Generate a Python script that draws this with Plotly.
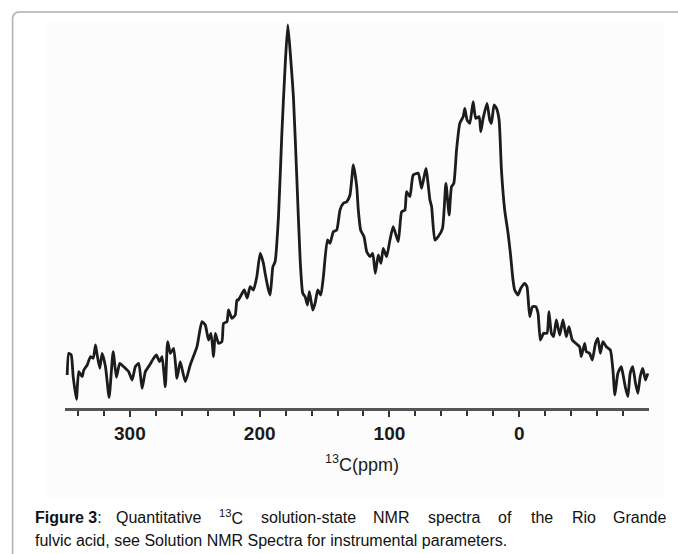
import plotly.graph_objects as go

# 13C chemical shift (ppm) and intensity (arbitrary units)
ppm = [348.3, 347.1, 345.2, 343.7, 341.2, 339.4, 336.8, 335.5, 332.9, 330.4, 328.3, 326.5, 325.2,
       323.2, 321.4, 318.8, 316.0, 312.9, 310.4, 307.8, 304.8, 300.9, 298.3, 295.8, 293.2, 290.6,
       288.1, 284.8, 281.7, 279.6, 277.1, 275.2, 272.7, 270.9, 268.8, 266.3, 263.7, 261.2, 257.3,
       253.5, 248.3, 244.5, 241.9, 239.4, 237.5, 235.5, 234.2, 231.7, 229.1, 227.8, 225.2, 224.0,
       221.4, 218.8, 217.5, 216.5, 214.2, 211.9, 209.6, 207.3, 204.8, 202.2, 199.6, 197.1, 195.8,
       193.2, 191.9, 189.8, 188.1, 185.5, 182.9, 180.4, 178.3, 176.0, 174.0, 171.4, 168.8, 166.8,
       165.0, 163.2, 161.7, 159.1, 157.3, 155.2, 152.9, 150.9, 147.8, 145.8, 143.2, 140.6, 138.1,
       135.5, 132.9, 130.4, 127.8, 125.2, 124.0, 122.2, 119.6, 117.5, 115.0, 112.9, 110.9, 108.6,
       106.5, 104.8, 102.2, 99.6, 97.1, 93.2, 90.6, 88.1, 86.8, 84.2, 81.7, 77.8, 75.2, 71.9, 68.8,
       67.5, 65.0, 62.5, 59.1, 56.5, 54.0, 52.2, 50.4, 48.3, 45.8, 43.2, 41.9, 40.2, 38.1, 35.5,
       33.5, 30.9, 29.6, 27.8, 24.8, 22.7, 21.4, 19.4, 17.5, 15.5, 13.7, 11.2, 8.6, 6.8, 4.8, 3.5,
       0.9, -1.2, -4.2, -6.0, -8.1, -10.2, -12.7, -14.5, -16.3, -18.8, -21.4, -22.9, -24.8, -26.5,
       -28.6, -31.2, -33.7, -36.3, -38.3, -40.9, -43.5, -46.5, -47.8, -50.4, -51.7, -54.2, -56.3,
       -58.8, -60.6, -62.5, -64.5, -67.1, -70.2, -72.2, -73.7, -76.0, -78.6, -79.8, -81.7, -83.7,
       -85.5, -87.5, -89.6, -91.4, -93.2, -95.2, -97.3, -99.1]
intensity = [33, 54.7, 53, 31.3, 8.7, 36.3, 31.3, 38, 43, 51.3, 49.7, 63, 53,
             39.7, 54.7, 41.3, 10.7, 56.3, 30.7, 44.7, 41.3, 36.3, 28, 41.3, 44.7, 19.7,
             36.3, 43, 49.7, 53, 46.3, 51.3, 21.3, 66.3, 54.7, 59.7, 29.7, 46.3, 26.3,
             43, 61.3, 86.3, 83, 68, 74.7, 51.3, 74.7, 64.7, 66.3, 84.7, 86.3, 98,
             89.7, 93, 108, 108, 113, 118, 110, 121.3, 118, 131.3, 154.7, 144.7, 134.7,
             118, 113, 141.3, 146.3, 191.3, 274.7, 341.3, 383, 348, 311.3, 231.3, 148, 114.7,
             111.3, 103, 116.3, 98, 104.7, 118, 113, 131.3, 168, 164.7, 176.3, 178, 198,
             204.7, 206.3, 213, 243, 221.3, 198, 178, 171.3, 156.3, 151.3, 154.7, 134.7, 153,
             144.7, 159.7, 151.3, 168, 181.3, 166.3, 196.3, 198, 216.3, 211.3, 233, 234.7, 219.7, 239.7, 208,
             201.3, 168, 171.3, 179.7, 224.7, 193, 221.3, 224.7, 258, 284.7, 291.3, 299.7, 288, 284.7, 306.3,
             289.7, 291.3, 276.3, 289.7, 304.7, 288, 284.7, 303, 299.7, 288, 238, 198, 174.7, 154.7, 128, 118,
             113, 119.7, 124.7, 121.3, 91.3, 101.3, 101.3, 94.7, 68, 74.7, 74.7, 96.3, 74.7, 71.3,
             88, 73, 88, 71.3, 81.3, 68, 64.7, 61.3, 51.3, 64.7, 56.3, 54.7, 48,
             64.7, 69.7, 54.7, 66.3, 61.3, 58, 38, 13, 34.7, 41.3, 34.7, 21.3, 11.3,
             34.7, 41.3, 24.7, 14.7, 31.3, 39.7, 28, 34.7]

major_ticks = [300, 200, 100, 0]
major_labels = ["300", "200", "100", "0"]
minor_ticks = [340, 320, 280, 260, 240, 220, 180, 160, 140, 120, 80, 60, 40, 20,
               -20, -40, -60, -80]

caption_line1 = [("<b>Figure 3</b>:", 32), ("Quantitative", 113.7), ("<sup>13</sup>C", 217),
                 ("solution-state", 259.2), ("NMR", 370.9), ("spectra", 426.2), ("of", 496.6),
                 ("the", 529.3), ("Rio", 570.5), ("Grande", 611.7)]
caption_line2 = "fulvic acid, see Solution NMR Spectra for instrumental parameters."

W, H = 678, 554
L, R, T, B = 64.5, 649.5, 20, 408  # plot area in pixels
PW, PH = R - L, B - T


def fx(x):
    return (x - L) / PW


def fy(y):
    return (B - y) / PH


fig = go.Figure()
fig.add_trace(go.Scatter(x=ppm, y=intensity, mode="lines",
                         line=dict(color="#1c1c1c", width=2.8, shape="spline", smoothing=0.5),
                         hoverinfo="skip"))

sans = "Liberation Sans, Arial, sans-serif"

fig.update_layout(
    width=W, height=H,
    margin=dict(l=L, r=W - R, t=T, b=H - B, pad=0),
    paper_bgcolor="white", plot_bgcolor="rgba(0,0,0,0)",
    showlegend=False,
    xaxis=dict(range=[350, -100], tickmode="array", tickvals=major_ticks, ticktext=major_labels,
               ticks="outside", ticklen=6, tickwidth=2, tickcolor="#333",
               showline=True, linecolor="#555", linewidth=2.5, showgrid=False, zeroline=False,
               tickfont=dict(family=sans, size=19, color="#1a1a1a", weight="bold"),
               minor=dict(tickmode="array", tickvals=minor_ticks, ticks="outside", ticklen=5,
                          tickwidth=2, tickcolor="#333", showgrid=False)),
    yaxis=dict(range=[0, PH], visible=False, showgrid=False, zeroline=False),
)

# inner light image background and outer rounded frame
fig.add_shape(type="rect", xref="paper", yref="paper", x0=fx(45), x1=fx(665), y0=fy(497), y1=fy(23),
              fillcolor="#fcfcfc", line=dict(width=0), layer="below")
r = 7
path = (f"M {fx(12)} {fy(H + 5)} L {fx(12)} {fy(12 + r)} Q {fx(12)} {fy(12)} {fx(12 + r)} {fy(12)} "
        f"L {fx(W + 5)} {fy(12)}")
fig.add_shape(type="path", xref="paper", yref="paper", path=path,
              line=dict(color="#b0b0b0", width=1.5), layer="below")

# axis title
fig.add_annotation(text="<sup>13</sup>C(ppm)", xref="paper", yref="paper",
                   x=fx(362), y=fy(463), xanchor="center", yanchor="middle", showarrow=False,
                   font=dict(family=sans, size=18, color="#1a1a1a"))

# caption
cap_font = dict(family=sans, size=16, color="#111")
for word, x in caption_line1:
    fig.add_annotation(text=word, xref="paper", yref="paper", x=fx(x), y=fy(517),
                       xanchor="left", yanchor="middle", showarrow=False, font=cap_font)
fig.add_annotation(text=caption_line2, xref="paper", yref="paper", x=fx(32), y=fy(540),
                   xanchor="left", yanchor="middle", showarrow=False, font=cap_font)

fig.write_html("out.html")
